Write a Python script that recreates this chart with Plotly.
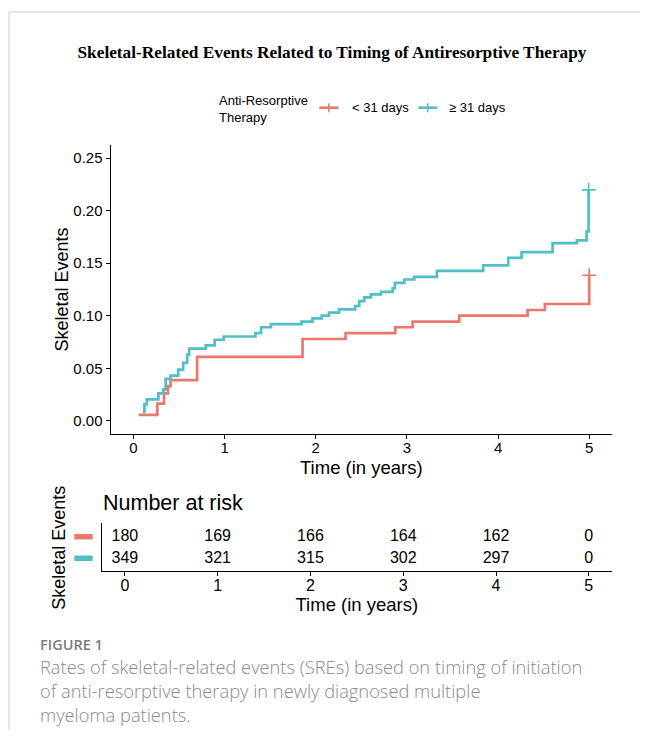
import plotly.graph_objects as go

# The page body has an 8px margin, so the figure is offset by 8px and sized to fit the window.
OFF = 8
W, H = 632, 722

# ---- data ----
red_name = "< 31 days"
cyan_name = "≥ 31 days"
red_t = [0.055, 0.262, 0.335, 0.38, 0.407, 0.698, 1.855, 2.327, 2.872, 3.062, 3.574, 4.324, 4.514, 5.0]
red_v = [0.0057, 0.0164, 0.0261, 0.033, 0.0387, 0.0608, 0.0779, 0.0835, 0.0891, 0.0945, 0.1002, 0.1055, 0.1112, 0.1386]
cyan_t = [0.102, 0.12, 0.145, 0.273, 0.327, 0.353, 0.407, 0.491, 0.545, 0.589, 0.611, 0.793, 0.891, 0.989,
          1.338, 1.4, 1.509, 1.844, 1.964, 2.065, 2.145, 2.255, 2.433, 2.477, 2.532, 2.605, 2.715, 2.843,
          2.868, 2.971, 3.08, 3.329, 3.837, 4.111, 4.258, 4.598, 4.865, 4.971, 4.993]
cyan_v = [0.0085, 0.0157, 0.0205, 0.0261, 0.0299, 0.04, 0.0431, 0.0488, 0.0551, 0.063, 0.0687, 0.0718, 0.0772,
          0.0803, 0.0835, 0.0891, 0.092, 0.0945, 0.0976, 0.1002, 0.103, 0.1061, 0.1093, 0.114, 0.1175, 0.1203,
          0.1228, 0.126, 0.1313, 0.1345, 0.137, 0.1427, 0.148, 0.155, 0.1606, 0.1691, 0.1717, 0.1802, 0.2198]
risk_times = [0, 1, 2, 3, 4, 5]
risk_red = [180, 169, 166, 164, 162, 0]
risk_cyan = [349, 321, 315, 302, 297, 0]
y_ticks = [0.00, 0.05, 0.10, 0.15, 0.20, 0.25]
y_ticklabels = ["0.00", "0.05", "0.10", "0.15", "0.20", "0.25"]
x_ticks = [0, 1, 2, 3, 4, 5]

RED = "#EB786F"
CYAN = "#52BEC6"
SANS = "Liberation Sans, Arial, sans-serif"
CAPFONT = "Open Sans, sans-serif"


def px(x):
    return (x - OFF) / W


def py(y):
    return 1 - (y - OFF) / H


fig = go.Figure()

# KM step curves
fig.add_trace(go.Scatter(x=red_t, y=red_v, mode="lines", line=dict(color=RED, width=2.7, shape="hv"),
                         name=red_name, showlegend=False, xaxis="x", yaxis="y"))
fig.add_trace(go.Scatter(x=cyan_t, y=cyan_v, mode="lines", line=dict(color=CYAN, width=2.7, shape="hv"),
                         name=cyan_name, showlegend=False, xaxis="x", yaxis="y"))
# censor marks
fig.add_trace(go.Scatter(x=[red_t[-1]], y=[red_v[-1]], mode="markers",
                         marker=dict(symbol="cross-thin-open", size=10, color=RED,
                                     line=dict(color=RED, width=1.6)),
                         showlegend=False, hoverinfo="skip", xaxis="x", yaxis="y"))
fig.add_trace(go.Scatter(x=[cyan_t[-1]], y=[cyan_v[-1]], mode="markers",
                         marker=dict(symbol="cross-thin-open", size=10, color=CYAN,
                                     line=dict(color=CYAN, width=1.6)),
                         showlegend=False, hoverinfo="skip", xaxis="x", yaxis="y"))

# risk table
fig.add_trace(go.Scatter(x=risk_times, y=[2] * len(risk_times), mode="text",
                         text=[str(v) for v in risk_red], textfont=dict(family=SANS, size=16, color="black"),
                         showlegend=False, xaxis="x2", yaxis="y2"))
fig.add_trace(go.Scatter(x=risk_times, y=[1] * len(risk_times), mode="text",
                         text=[str(v) for v in risk_cyan], textfont=dict(family=SANS, size=16, color="black"),
                         showlegend=False, xaxis="x2", yaxis="y2"))

axis_common = dict(showline=True, linecolor="black", linewidth=1.3, ticks="outside", ticklen=4,
                   tickcolor="black", tickwidth=1.3, showgrid=False, zeroline=False,
                   tickfont=dict(family=SANS, size=15, color="black"))

fig.update_layout(
    width=W, height=H,
    margin=dict(l=0, r=0, t=0, b=0),
    paper_bgcolor="white", plot_bgcolor="white",
    font=dict(family=SANS, color="black"),
    title=dict(text="<b>Skeletal-Related Events Related to Timing of Antiresorptive Therapy</b>",
               x=px(332), y=py(51.5), xanchor="center", yanchor="middle",
               font=dict(family="Liberation Serif, Times New Roman, serif", size=17.3, color="black")),
    xaxis=dict(domain=[px(110.7), px(612)], range=[-0.25, 5.25], anchor="y", tickvals=x_ticks,
               ticklabelstandoff=-4,
               title=dict(text="Time (in years)", font=dict(family=SANS, size=18.5, color="black"), standoff=5),
               **axis_common),
    yaxis=dict(domain=[py(434), py(145)], range=[-0.0125, 0.2625], anchor="x", tickvals=y_ticks,
               ticktext=y_ticklabels,
               title=dict(text="Skeletal Events", font=dict(family=SANS, size=18, color="black"), standoff=0),
               **axis_common),
    xaxis2=dict(domain=[px(101.7), px(612)], range=[-0.25, 5.25], anchor="y2", tickvals=x_ticks,
                ticklabelstandoff=-4,
                title=dict(text="Time (in years)", font=dict(family=SANS, size=18.5, color="black"), standoff=0),
                **{**axis_common, "tickfont": dict(family=SANS, size=16, color="black")}),
    yaxis2=dict(domain=[py(570.7), py(523)], range=[0.45, 2.65], anchor="x2", showline=True, linecolor="black",
                linewidth=1.3, ticks="", showticklabels=False, showgrid=False, zeroline=False),
)

shapes = []
# frame lines
shapes.append(dict(type="line", xref="paper", yref="paper", x0=px(9), x1=1, y0=py(12), y1=py(12),
                   line=dict(color="#D0D0D0", width=1)))
shapes.append(dict(type="line", xref="paper", yref="paper", x0=px(9), x1=px(9), y0=py(12), y1=0,
                   line=dict(color="#D0D0D0", width=1)))
# legend keys
for x0, col in [(319.3, RED), (418.3, CYAN)]:
    shapes.append(dict(type="line", xref="paper", yref="paper", x0=px(x0), x1=px(x0 + 19), y0=py(107.7),
                       y1=py(107.7), line=dict(color=col, width=2.6)))
    shapes.append(dict(type="line", xref="paper", yref="paper", x0=px(x0 + 9.5), x1=px(x0 + 9.5),
                       y0=py(103.2), y1=py(112.2), line=dict(color=col, width=1.5)))
# risk table colour keys
for yy, col in [(536.7, RED), (558.3, CYAN)]:
    shapes.append(dict(type="line", xref="paper", yref="paper", x0=px(74.3), x1=px(92.7), y0=py(yy), y1=py(yy),
                       line=dict(color=col, width=5.5)))

caption_lines = [
    "Rates of skeletal-related events (SREs) based on timing of initiation",
    "of anti-resorptive therapy in newly diagnosed multiple",
    "myeloma patients.",
]

annotations = [
    dict(text="Anti-Resorptive<br>Therapy", x=px(217), y=py(108.8), xref="paper", yref="paper",
         xanchor="left", yanchor="middle", align="left", showarrow=False,
         font=dict(family=SANS, size=13, color="black")),
    dict(text=red_name, x=px(349.5), y=py(107.7), xref="paper", yref="paper", xanchor="left",
         yanchor="middle", showarrow=False, font=dict(family=SANS, size=13, color="black")),
    dict(text=cyan_name, x=px(447), y=py(107.7), xref="paper", yref="paper", xanchor="left",
         yanchor="middle", showarrow=False, font=dict(family=SANS, size=13, color="black")),
    dict(text="Number at risk", x=px(100.5), y=py(503.3), xref="paper", yref="paper", xanchor="left",
         yanchor="middle", showarrow=False, font=dict(family=SANS, size=21.5, color="black")),
    dict(text="Skeletal Events", x=px(58.3), y=py(547.5), xref="paper", yref="paper", xanchor="center",
         yanchor="middle", textangle=-90, showarrow=False, font=dict(family=SANS, size=18, color="black")),
    dict(text="FIGURE 1", x=px(38), y=py(644.3), xref="paper", yref="paper", xanchor="left",
         yanchor="middle", showarrow=False,
         font=dict(family=CAPFONT, size=14.5, color="#7B7B7B", weight=600)),
    dict(text="<br>".join(caption_lines), x=px(38), y=py(690.8), xref="paper", yref="paper",
         xanchor="left", yanchor="middle", align="left", showarrow=False,
         font=dict(family=CAPFONT, size=18.3, color="#8A8A8A", weight=300)),
]

fig.update_layout(shapes=shapes, annotations=annotations)
fig.write_html("out.html")
